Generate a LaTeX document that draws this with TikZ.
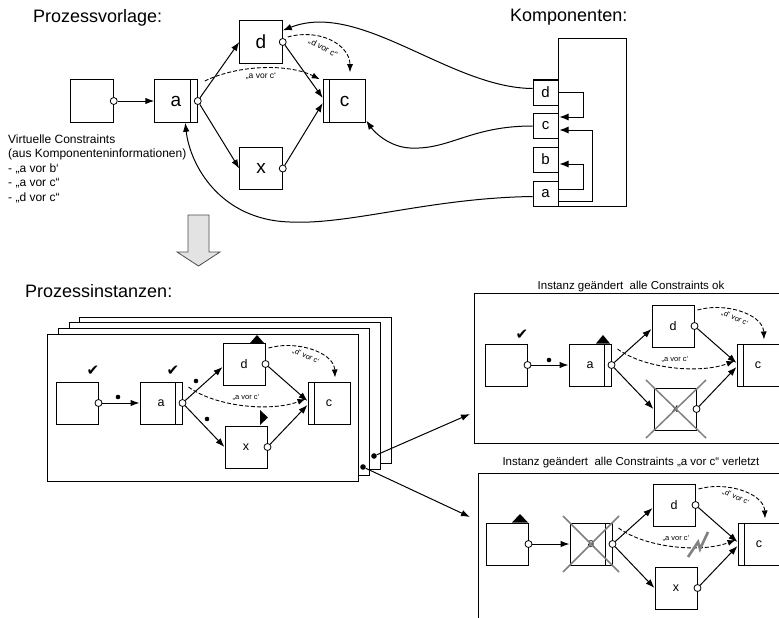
\documentclass[tikz,border=0pt]{standalone}
\usepackage{fontspec}
\setmainfont{Liberation Sans}
\newfontfamily\dejavu{DejaVu Sans}
\usetikzlibrary{arrows.meta,calc}
\tikzset{
  lw/.style={line width=1pt},
  box/.style={draw, line width=1pt, minimum size=42.5pt, inner sep=0pt, fill=white, font=\fontsize{19}{19}\selectfont},
  ibox/.style={draw, line width=1pt, minimum size=42pt, inner sep=0pt, fill=white, font=\fontsize{12.5}{12.5}\selectfont},
  kbox/.style={draw, line width=1pt, minimum size=25pt, inner sep=0pt, fill=white, font=\fontsize{15}{15}\selectfont},
  circ/.style={circle, draw, fill=white, line width=0.8pt, minimum size=7pt, inner sep=0pt},
  arr/.style={line width=1pt, -{Latex[length=9pt,width=6.5pt]}},
  karr/.style={line width=1pt, -{Latex[length=9pt,width=7pt]}},
  darr/.style={line width=0.9pt, dash pattern=on 4pt off 2pt, -{Latex[length=8pt,width=6pt]}},
  lbl/.style={font=\fontsize{8.5}{9}\selectfont, inner sep=0pt},
  ilbl/.style={font=\fontsize{7.5}{8}\selectfont, inner sep=0pt},
  title/.style={font=\fontsize{18}{20}\selectfont, inner sep=0pt},
  ptitle/.style={font=\fontsize{11.5}{12}\selectfont, inner sep=0pt},
  chk/.style={font=\dejavu\fontsize{15}{15}\selectfont, inner sep=0pt},
  dotn/.style={circle, fill=black, minimum size=4.6pt, inner sep=0pt},
  bigdot/.style={circle, fill=black, minimum size=5.6pt, inner sep=0pt},
  crossl/.style={draw=gray, line width=1.5pt},
}
\newcommand{\instbase}{%
  \node[ibox] (b0) at (21,21) {};
  \node[ibox] (a) at (105,21) {a\hspace{7pt}};
  \node[ibox] (d) at (188,-18) {d};
  \node[ibox] (x) at (190,65) {x};
  \node[ibox] (c) at (273,21) {c};
  \draw[lw] ($(a.north east)+(-7,0)$) -- ($(a.south east)+(-7,0)$);
  \draw[lw] ($(c.north west)+(7,0)$) -- ($(c.south west)+(7,0)$);
  \draw[darr] ($(a.east)+(6,-16)$) .. controls (160,25) and (215,30) .. ($(c.west)+(-2,-4)$);
  \draw[darr] ($(d.east)+(3,-16)$) .. controls (240,-42) and (278,-30) .. ($(c.north)+(6,-4)$);
  \node[ilbl] (lac) at (190,15) {„a vor c‘};
  \node[ilbl, rotate=-25] (ldc) at (250,-26) {„d‘ vor c‘};
  \node[circ] (b0o) at (b0.east) {};
  \node[circ] (ao) at (a.east) {};
  \node[circ] (do) at (d.east) {};
  \node[circ] (xo) at (x.east) {};
  \draw[arr] (b0o) -- (a.west);
  \draw[arr] (ao) -- ($(d.west)+(0,3)$);
  \draw[arr] (ao) -- (x.west);
  \draw[arr] (do) -- ($(c.west)+(0,-2)$);
  \draw[arr] (xo) -- ($(c.west)+(0,2)$);
}
\begin{document}
\begin{tikzpicture}[x=1pt,y=-1pt]
\useasboundingbox (0,0) rectangle (779,618);

% titles
\node[title, anchor=base west] (t1) at (33,23) {Prozessvorlage:};
\node[title, anchor=base west] (t2) at (510,22) {Komponenten:};
\node[title, anchor=base west] (t3) at (25,297) {Prozessinstanzen:};

% ---------- Prozessvorlage ----------
\node[box] (tb0) at (92,101) {};
\node[box] (ta) at (176,101) {a\hspace{7pt}};
\node[box] (td) at (261,42) {d};
\node[box] (tx) at (261,168.5) {x};
\node[box] (tc) at (344.5,101) {c};
\draw[lw] ($(ta.north east)+(-7,0)$) -- ($(ta.south east)+(-7,0)$);
\draw[lw] ($(tc.north west)+(7,0)$) -- ($(tc.south west)+(7,0)$);
\node[circ] (tb0o) at (tb0.east) {};
\node[circ] (tao) at (ta.east) {};
\node[circ] (tdo) at (td.east) {};
\node[circ] (txo) at (tx.east) {};
\draw[arr] (tb0o) -- (ta.west);
\draw[arr] (tao) -- (td.west);
\draw[arr] (tao) -- (tx.west);
\draw[arr] (tdo) -- ($(tc.west)+(0,-3)$);
\draw[arr] (txo) -- ($(tc.west)+(0,2)$);
\draw[darr] ($(tao)+(7,-20)$) .. controls (240,64) and (290,64) .. ($(tc.north west)+(-3,0)$);
\node[lbl] (tlac) at (261,76) {„a vor c‘};
\draw[darr] ($(tdo)+(5,-5)$) .. controls (320,28) and (350,45) .. ($(tc.north)+(5.5,-7)$);
\node[lbl, rotate=-28] (tldc) at (323,48) {„d vor c“};

\node[anchor=north west, align=left, font=\fontsize{12}{14.5}\selectfont, inner sep=0pt] (vc) at (8,134.5)
  {Virtuelle Constraints\\(aus Komponenteninformationen)\\- „a vor b‘\\- „a vor c“\\- „d vor c“};

% big grey arrow
\draw[fill=gray!22, draw=gray!60!black, line width=0.8pt] (188,215) -- (209,215) -- (209,252) -- (220,252) -- (198.5,266) -- (177,252) -- (188,252) -- cycle;

% ---------- Komponenten ----------
\node[draw, line width=1pt, minimum width=68pt, minimum height=168pt, anchor=north west, inner sep=0pt] (komp) at (558,38) {};
\node[kbox] (kd) at (545.5,92.5) {d};
\node[kbox] (kc) at (545.5,126) {c};
\node[kbox] (kb) at (545.5,159.5) {b};
\node[kbox] (ka) at (545.5,193.5) {a};
\draw[karr] (kd.east) -- ++(25,0) |- ($(kc.east)+(1,-9)$);
\draw[karr] ($(ka.east)+(0,-4.5)$) -- ++(25,0) |- ($(kb.east)+(1,4.5)$);
\draw[karr] ($(ka.east)+(0,7.5)$) -- ++(34,0) |- ($(kc.east)+(1,4)$);

\draw[arr] ($(kd.west)+(0,-4)$) .. controls (450,88) and (360,0) .. (td.28);
\draw[arr] (kc.west) .. controls (470,126) and (450,150) .. (410,148) .. controls (390,147) and (375,133) .. (tc.-42);
\draw[arr] ($(ka.west)+(0,3)$) .. controls (430,198) and (350,225) .. (290,222) .. controls (220,220) and (190,165) .. (ta.-67);

% ---------- Prozessinstanzen ----------
\draw[lw, fill=white] (79,317) rectangle (391,463);
\draw[lw, fill=white] (69,322) rectangle (380,469);
\draw[lw, fill=white] (58,328) rectangle (369,475);
\draw[lw, fill=white] (47,334) rectangle (358,481);

\begin{scope}[shift={(56,382)}, name prefix=i-]
  \instbase
  \node[chk] (ck1) at (37,-11) {✔};
  \node[chk] (ck2) at (117,-11) {✔};
  \node[dotn] (dt1) at (62,15) {};
  \node[dotn] (dt2) at (140,-1) {};
  \node[dotn] (dt3) at (151,37) {};
  \fill (194,-39) -- (208,-39) -- (201,-47) -- cycle;
  \fill (204,28) -- (204,43) -- (212,35.5) -- cycle;
\end{scope}

\node[bigdot] (s1) at (374,456) {};
\node[bigdot] (s2) at (363,467) {};
\coordinate (p1in) at (470,414);
\coordinate (p2in) at (470,517);
\draw[arr] (s1) -- (p1in);
\draw[arr] (s2) -- (p2in);

% panel 1
\node[ptitle] (pt1) at (631,287) {Instanz geändert\ \ alle Constraints ok};
\draw[lw] (781,293) -- (474,293) -- (474,443) -- (781,443);
\begin{scope}[shift={(485,344)}, name prefix=p-]
  \instbase
  \node[chk] (ck1) at (37,-9) {✔};
  \node[dotn] (dt1) at (64,16) {};
  \fill (111,-0.5) -- (125,-0.5) -- (118,-9) -- cycle;
  \draw[crossl] (161,36) -- (221,94);
  \draw[crossl] (221,36) -- (161,94);
\end{scope}

% panel 2
\node[ptitle] (pt2) at (631,463) {Instanz geändert\ \ alle Constraints „a vor c“ verletzt};
\draw[lw] (781,473) -- (478,473) -- (478,620);
\begin{scope}[shift={(486,523)}, name prefix=q-]
  \instbase
  \fill (26,-0.5) -- (42,-0.5) -- (34,-9) -- cycle;
  \draw[crossl] (77,-7) -- (133,49);
  \draw[crossl] (133,-7) -- (77,49);
  \draw[draw=gray, line width=2.6pt, line join=miter] (202,34) -- (212,19) -- (214,26) -- (222,9);
\end{scope}
\end{tikzpicture}
\end{document}
